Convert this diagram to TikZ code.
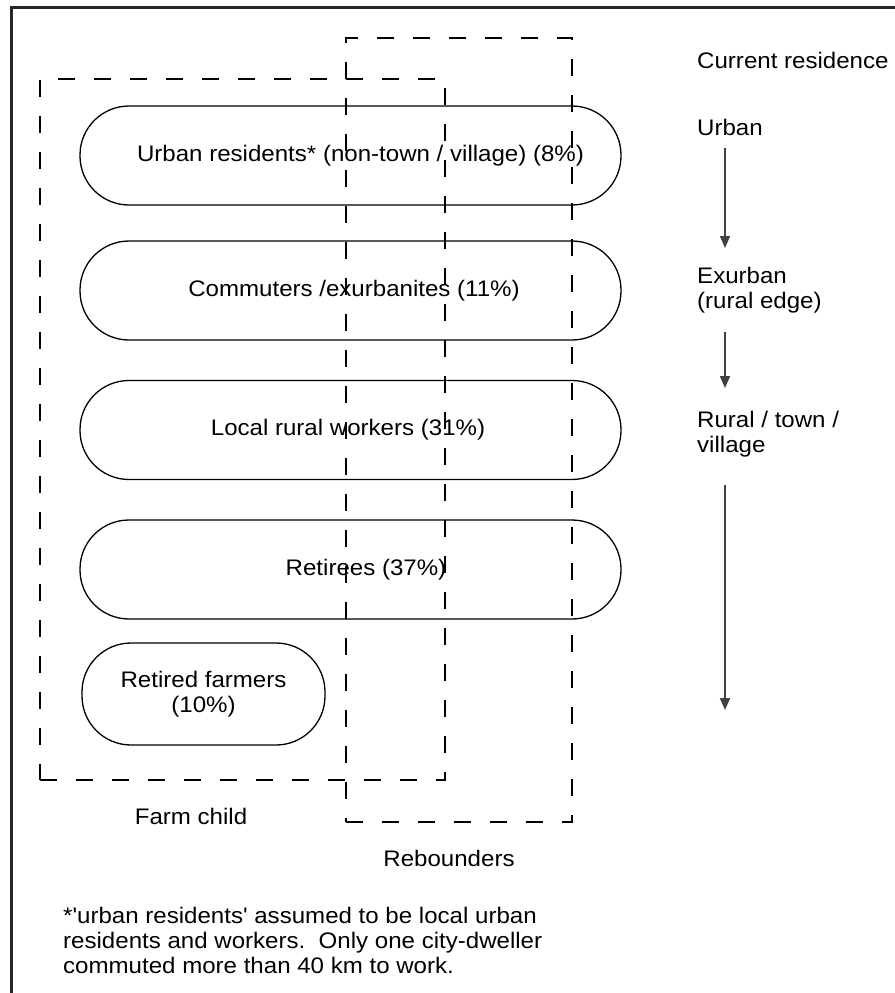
\documentclass[tikz,border=0pt]{standalone}
\usepackage{fontspec}
\setmainfont{Liberation Sans}[FakeStretch=1.07, Ligatures=TeXOff]
\usetikzlibrary{arrows.meta}
\begin{document}
\begin{tikzpicture}[x=1pt,y=-1pt,
  every node/.style={font=\fontsize{22.5}{25}\selectfont, inner sep=0pt},
  stad/.style={draw, line width=1.3pt, rounded corners=49pt},
  dbox/.style={draw, line width=1.4pt, dash pattern=on 17pt off 19pt},
  lbl/.style={anchor=west, align=left},
  flow/.style={draw=black!75, line width=1.6pt, -{Triangle[length=12pt,width=10pt]}}]
\useasboundingbox (0,0) rectangle (894,993);
% frame
\draw[line width=3pt, black!85] (11,1010) -- (11,7) -- (910,7);
% dashed groups
\node[dbox, minimum width=405pt, minimum height=701pt] (farm) at (242.5,429.5) {};
\node[dbox, minimum width=226pt, minimum height=784pt] (reb) at (459,430) {};
% stadiums
\node[stad, minimum width=541pt, minimum height=99pt] (s1) at (350.5,155.5) {};
\node[stad, minimum width=541pt, minimum height=99pt] (s2) at (350.5,290.5) {};
\node[stad, minimum width=541pt, minimum height=99pt] (s3) at (350.5,430) {};
\node[stad, minimum width=541pt, minimum height=99pt] (s4) at (350.5,569.5) {};
\node[stad, minimum width=243pt, minimum height=102pt] (s5) at (203.5,694) {};
\node (t1) at ([xshift=10pt]s1.center) {Urban residents* (non-town / village) (8\%)};
\node (t2) at ([xshift=3.5pt]s2.center) {Commuters /exurbanites (11\%)};
\node (t3) at ([xshift=-2.5pt]s3.center) {Local rural workers (31\%)};
\node (t4) at ([xshift=15.5pt]s4.center) {Retirees (37\%)};
\node[align=center] (t5) at (s5.center) {Retired farmers\\(10\%)};
% group labels
\node (lfarm) at (191,816) {Farm child};
\node (lreb) at (449,858) {Rebounders};
% right column
\node[lbl] (cur) at (697,60) {Current residence};
\node[lbl] (urban) at (697,127) {Urban};
\node[lbl] (exu) at (697,290) {Exurban\\(rural edge)};
\node[lbl] (rur) at (697,434) {Rural / town /\\village};
\coordinate (a1s) at (725,148);
\coordinate (a1e) at (725,248);
\coordinate (a2s) at (725,332);
\coordinate (a2e) at (725,388);
\coordinate (a3s) at (725,485);
\coordinate (a3e) at (725,710);
\draw[flow] (a1s) -- (a1e);
\draw[flow] (a2s) -- (a2e);
\draw[flow] (a3s) -- (a3e);
% footnote
\node[lbl] (note) at (63,940) {*'urban residents' assumed to be local urban\\residents and workers.\ \ Only one city-dweller\\commuted more than 40 km to work.};
\end{tikzpicture}
\end{document}
